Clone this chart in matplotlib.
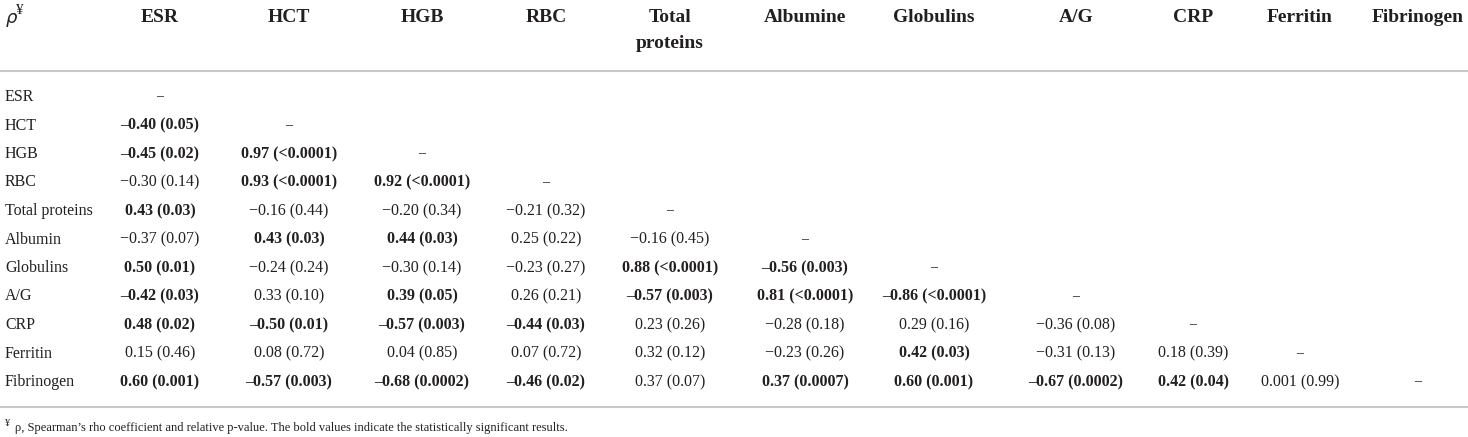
import numpy as np
import matplotlib.pyplot as plt

# column / row labels
col_labels = ["ESR", "HCT", "HGB", "RBC", "Total\nproteins", "Albumine",
              "Globulins", "A/G", "CRP", "Ferritin", "Fibrinogen"]
row_labels = ["ESR", "HCT", "HGB", "RBC", "Total proteins", "Albumin",
              "Globulins", "A/G", "CRP", "Ferritin", "Fibrinogen"]

# Spearman rho (lower triangle), p-values and significance flags
rho = [
    [],
    ["-0.40"],
    ["-0.45", "0.97"],
    ["-0.30", "0.93", "0.92"],
    ["0.43", "-0.16", "-0.20", "-0.21"],
    ["-0.37", "0.43", "0.44", "0.25", "-0.16"],
    ["0.50", "-0.24", "-0.30", "-0.23", "0.88", "-0.56"],
    ["-0.42", "0.33", "0.39", "0.26", "-0.57", "0.81", "-0.86"],
    ["0.48", "-0.50", "-0.57", "-0.44", "0.23", "-0.28", "0.29", "-0.36"],
    ["0.15", "0.08", "0.04", "0.07", "0.32", "-0.23", "0.42", "-0.31", "0.18"],
    ["0.60", "-0.57", "-0.68", "-0.46", "0.37", "0.37", "0.60", "-0.67", "0.42", "0.001"],
]
pval = [
    [],
    ["0.05"],
    ["0.02", "<0.0001"],
    ["0.14", "<0.0001", "<0.0001"],
    ["0.03", "0.44", "0.34", "0.32"],
    ["0.07", "0.03", "0.03", "0.22", "0.45"],
    ["0.01", "0.24", "0.14", "0.27", "<0.0001", "0.003"],
    ["0.03", "0.10", "0.05", "0.21", "0.003", "<0.0001", "<0.0001"],
    ["0.02", "0.01", "0.003", "0.03", "0.26", "0.18", "0.16", "0.08"],
    ["0.46", "0.72", "0.85", "0.72", "0.12", "0.26", "0.03", "0.13", "0.39"],
    ["0.001", "0.003", "0.0002", "0.02", "0.07", "0.0007", "0.001", "0.0002", "0.04", "0.99"],
]
signif = [
    [],
    [1],
    [1, 1],
    [0, 1, 1],
    [1, 0, 0, 0],
    [0, 1, 1, 0, 0],
    [1, 0, 0, 0, 1, 1],
    [1, 0, 1, 0, 1, 1, 1],
    [1, 1, 1, 1, 0, 0, 0, 0],
    [0, 0, 0, 0, 0, 0, 1, 0, 0],
    [1, 1, 1, 1, 0, 1, 1, 1, 1, 0],
]
footnote = ("ρ, Spearman’s rho coefficient and relative p-value. "
            "The bold values indicate the statistically significant results.")

plt.rcParams['font.family'] = ['Liberation Serif', 'DejaVu Serif']
txt_color = '#231f20'
line_color = '#c8c8c8'

W, H = 1468, 437
fig = plt.figure(figsize=(W / 100, H / 100), dpi=100)
ax = fig.add_axes([0, 0, 1, 1])
ax.set_xlim(0, W)
ax.set_ylim(H, 0)
ax.axis('off')

col_x = [160, 289, 422, 546, 670, 805, 934, 1076, 1193, 1300, 1418]
row_y0, row_dy = 97, 28.5
label_x = 5

# header
ax.text(label_x, 20, "$\\rho$", fontsize=13, color=txt_color, va='center', ha='left')
ax.text(label_x + 11, 11, "¥", fontsize=11, color=txt_color, va='center', ha='left')
for x, lab in zip(col_x, col_labels):
    for k, ln in enumerate(lab.split('\n')):
        ax.text(x, 17 + k * 26, ln, fontsize=14, fontweight='bold', color=txt_color,
                ha='center', va='center')

ax.plot([0, W], [71, 71], color=line_color, lw=1.5)

# body
for i, lab in enumerate(row_labels):
    y = row_y0 + i * row_dy
    ax.text(label_x, y, lab, fontsize=11.5, color=txt_color, ha='left', va='center')
    for j in range(i):
        b = signif[i][j]
        r = rho[i][j].replace('-', '–' if b else '−')
        s = f"{r} ({pval[i][j]})"
        ax.text(col_x[j], y, s, fontsize=11.5, color=txt_color, ha='center', va='center',
                fontweight='bold' if b else 'normal')
    ax.text(col_x[i], y, "–", fontsize=10, color=txt_color, ha='center', va='center')

ax.plot([0, W], [407, 407], color=line_color, lw=1.5)
ax.text(label_x, 424, "¥", fontsize=7.5, color=txt_color, ha='left', va='center')
ax.text(label_x + 10, 428, footnote, fontsize=9, color=txt_color, ha='left', va='center')

fig.savefig("out.png", dpi=100)
